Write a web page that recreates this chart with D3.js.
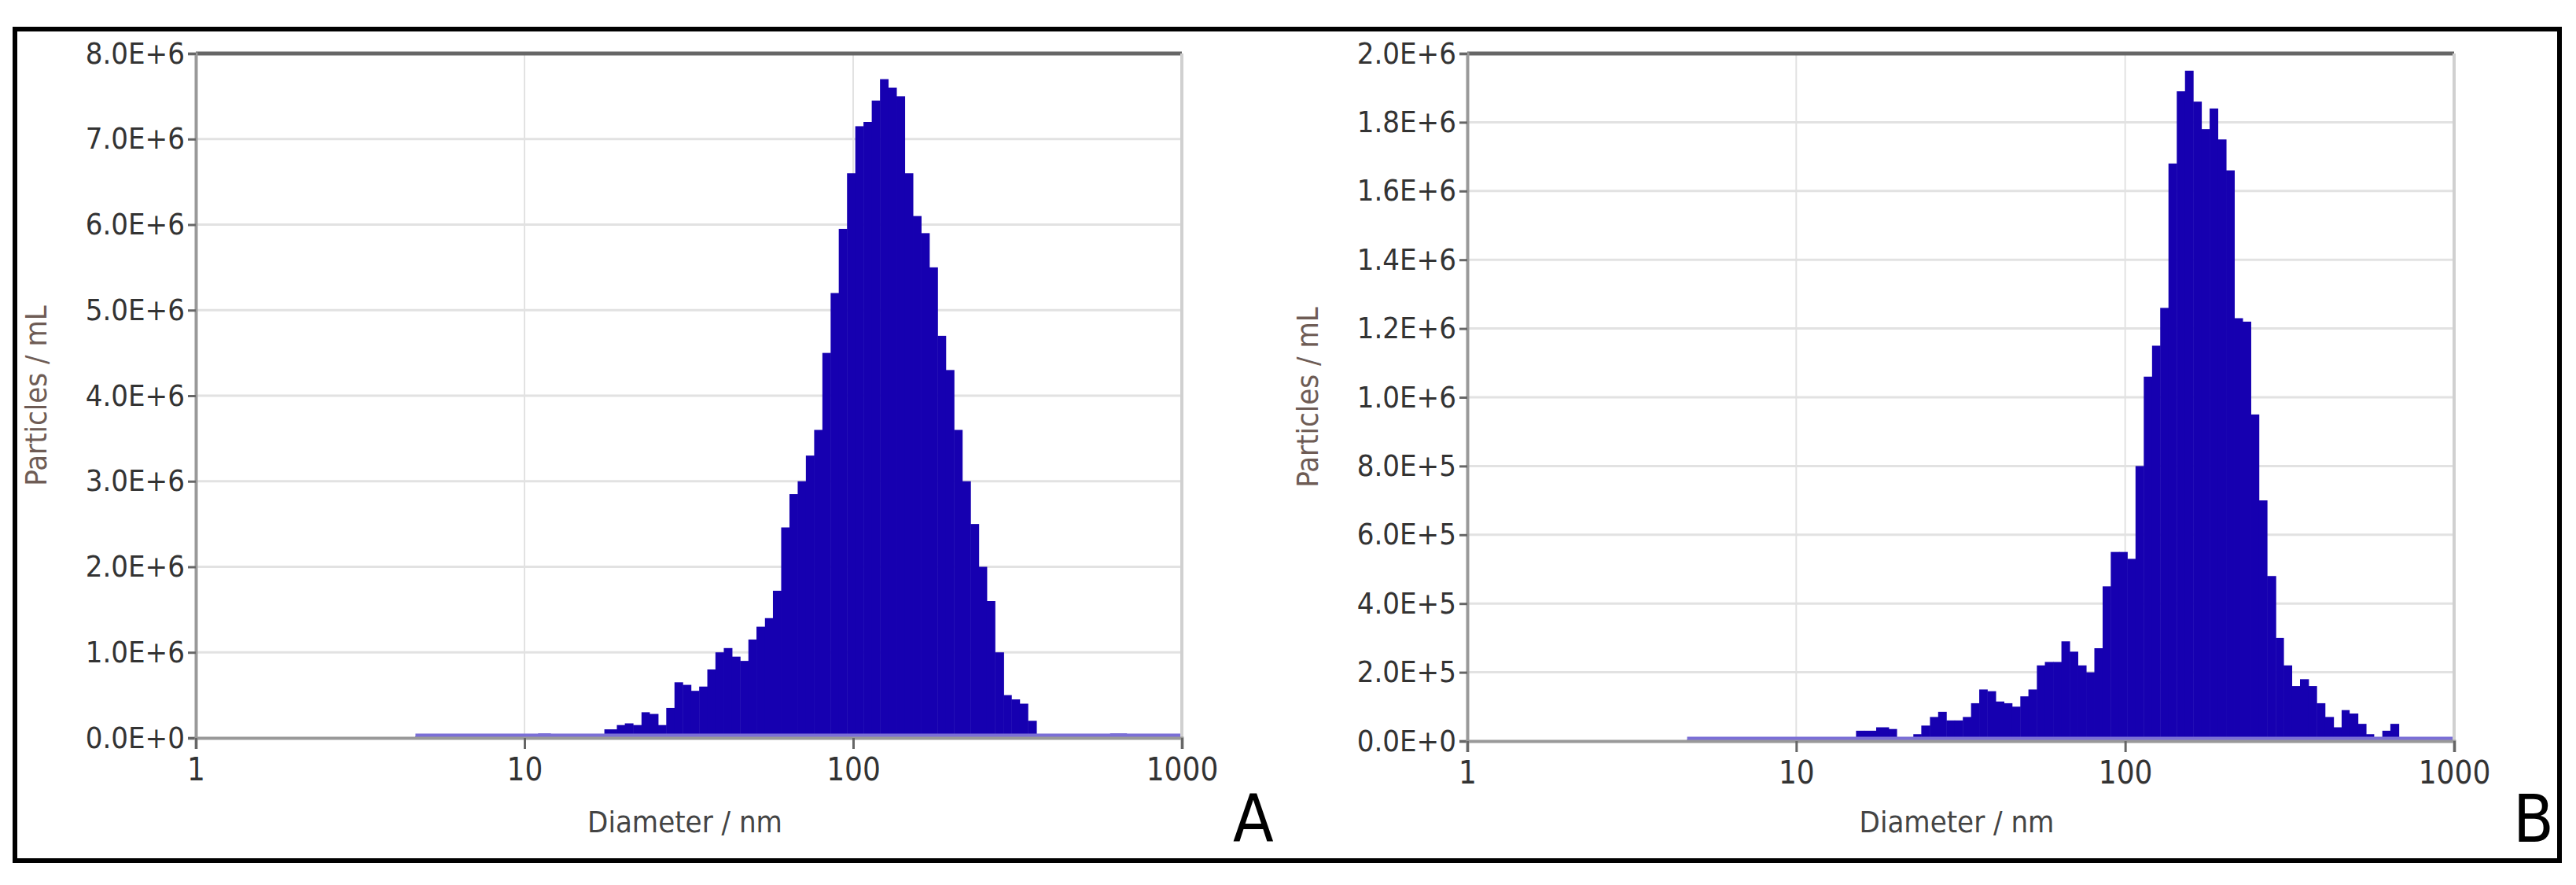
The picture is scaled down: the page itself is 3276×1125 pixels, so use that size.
<!DOCTYPE html>
<html>
<head>
<meta charset="utf-8">
<script src="https://cdn.jsdelivr.net/npm/d3@7"></script>
<style>
  body { margin: 0; background: #fff; }
  text { font-family: 'DejaVu Sans Condensed', 'DejaVu Sans', sans-serif; }
</style>
</head>
<body>
<div id="chart"></div>
<script>
// bin left edges (nm) and particle counts per bin
const diamA = [4.66,10.1,11.0,12.0,13.5,15.2,16.1,17.5,19.1,20.2,21.4,22.7,24.0,25.5,27.0,28.6,30.3,32.1,34.0,36.0,38.1,40.4,42.8,45.3,48.0,50.8,53.9,57.0,60.4,64.0,67.8,71.8,76.1,80.6,85.4,90.4,95.8,101.5,107.5,113.9,120.7,127.8,135.4,143.5,152,161,170.5,180.6,191.3,202.7,214.7,227.5,241,255,270,287,303,321,340,361,405,605,679,1000];
const valA = [0.02e6,0.02e6,0.05e6,0.03e6,0.01e6,0.04e6,0.03e6,0.1e6,0.15e6,0.17e6,0.15e6,0.3e6,0.28e6,0.15e6,0.35e6,0.65e6,0.62e6,0.55e6,0.6e6,0.8e6,1.0e6,1.05e6,0.95e6,0.9e6,1.15e6,1.3e6,1.4e6,1.72e6,2.46e6,2.85e6,3.0e6,3.3e6,3.6e6,4.5e6,5.2e6,5.95e6,6.6e6,7.15e6,7.2e6,7.45e6,7.7e6,7.6e6,7.5e6,6.6e6,6.1e6,5.9e6,5.5e6,4.7e6,4.3e6,3.6e6,3.0e6,2.5e6,2.0e6,1.6e6,1.0e6,0.5e6,0.45e6,0.4e6,0.2e6,0.03e6,0.01e6,0.05e6,0.01e6];

const diamB = [4.66,10.1,11.0,12.0,13.5,15.2,16.1,17.5,19.1,20.2,21.4,22.7,24.0,25.5,27.0,28.6,30.3,32.1,34.0,36.0,38.1,40.4,42.8,45.3,48.0,50.8,53.9,57.0,60.4,64.0,67.8,71.8,76.1,80.6,85.4,90.4,95.8,101.5,107.5,113.9,120.7,127.8,135.4,143.5,152,161,170.5,180.6,191.3,202.7,214.7,227.5,241,255,270,287,303,321,340,361,382,405,430,455,480,510,540,570,605,640,679,715,1000];
const valB = [0.05e5,0.05e5,0.05e5,0.05e5,0.05e5,0.3e5,0.3e5,0.4e5,0.35e5,0.1e5,0.0,0.2e5,0.45e5,0.7e5,0.85e5,0.6e5,0.6e5,0.7e5,1.1e5,1.5e5,1.45e5,1.15e5,1.1e5,1.0e5,1.3e5,1.5e5,2.2e5,2.3e5,2.3e5,2.9e5,2.6e5,2.2e5,2.0e5,2.7e5,4.5e5,5.5e5,5.5e5,5.3e5,8.0e5,10.6e5,11.5e5,12.6e5,16.8e5,18.9e5,19.5e5,18.6e5,17.8e5,18.4e5,17.5e5,16.6e5,12.3e5,12.2e5,9.5e5,7.0e5,4.8e5,3.0e5,2.2e5,1.6e5,1.8e5,1.6e5,1.1e5,0.7e5,0.4e5,0.9e5,0.8e5,0.5e5,0.2e5,0.05e5,0.3e5,0.5e5,0.1e5,0.05e5];

const xTicks = [1, 10, 100, 1000];
const yTicksA = [0,1e6,2e6,3e6,4e6,5e6,6e6,7e6,8e6];
const yTicksB = [0,2e5,4e5,6e5,8e5,1e6,1.2e6,1.4e6,1.6e6,1.8e6,2e6];

const W = 3276, H = 1125;
const svg = d3.select('#chart').append('svg').attr('width', W).attr('height', H);

svg.append('rect').attr('x', 19).attr('y', 37).attr('width', 3236).attr('height', 1057)
    .attr('fill', 'none').attr('stroke', '#000').attr('stroke-width', 6);

const sci = v => {
    if (v === 0) return '0.0E+0';
    const e = Math.floor(Math.log10(v) + 1e-9);
    return (v / Math.pow(10, e)).toFixed(1) + 'E+' + e;
};

function drawPanel(left, right, top, bottom, diam, vals, yMax, yTicks, letter, letterX) {
    const x = d3.scaleLog().domain([1, 1000]).range([left, right]);
    const y = d3.scaleLinear().domain([0, yMax]).range([bottom, top]);
    const g = svg.append('g');

    // grid
    g.selectAll('.hg').data(yTicks.slice(1, -1)).join('line')
        .attr('x1', left).attr('x2', right).attr('y1', d => y(d)).attr('y2', d => y(d))
        .attr('stroke', '#e2e2e2').attr('stroke-width', 3);
    g.selectAll('.vg').data([10, 100]).join('line')
        .attr('x1', d => x(d)).attr('x2', d => x(d)).attr('y1', top).attr('y2', bottom)
        .attr('stroke', '#e2e2e2').attr('stroke-width', 2);

    // bars
    const bins = vals.map((v, i) => ({ x0: diam[i], x1: diam[i + 1], v }));
    g.selectAll('.bar').data(bins).join('rect')
        .attr('x', d => x(d.x0)).attr('width', d => x(d.x1) - x(d.x0) + 0.5)
        .attr('y', d => y(d.v)).attr('height', d => bottom - y(d.v))
        .attr('fill', '#1600b0');
    // baseline trace
    g.append('line').attr('x1', x(diam[0])).attr('x2', x(1000))
        .attr('y1', y(0) - 3).attr('y2', y(0) - 3)
        .attr('stroke', '#7b6fd6').attr('stroke-width', 5);

    // frame
    g.append('line').attr('x1', left).attr('x2', right).attr('y1', top).attr('y2', top)
        .attr('stroke', '#666').attr('stroke-width', 5);
    g.append('line').attr('x1', right).attr('x2', right).attr('y1', top).attr('y2', bottom)
        .attr('stroke', '#d0d0d0').attr('stroke-width', 4);

    const yAxis = d3.axisLeft(y).tickValues(yTicks).tickFormat(sci).tickSize(10).tickPadding(4);
    const yG = g.append('g').attr('transform', `translate(${left},0)`).call(yAxis);
    yG.select('.domain').attr('stroke', '#999').attr('stroke-width', 4);
    yG.selectAll('.tick line').attr('stroke', '#666').attr('stroke-width', 3);
    yG.selectAll('text').attr('font-size', 38).attr('fill', '#333')
        .attr('font-family', "'DejaVu Sans Condensed', sans-serif");

    const xAxis = d3.axisBottom(x).tickValues(xTicks).tickFormat(d3.format('d')).tickSize(14).tickPadding(12);
    const xG = g.append('g').attr('transform', `translate(0,${bottom})`).call(xAxis);
    xG.select('.domain').attr('stroke', '#999').attr('stroke-width', 4);
    xG.selectAll('.tick line').attr('stroke', '#666').attr('stroke-width', 3);
    xG.selectAll('text').attr('font-size', 40).attr('fill', '#333')
        .attr('font-family', "'DejaVu Sans Condensed', sans-serif");

    g.append('text').attr('x', (left + right) / 2 - 5).attr('y', 1058)
        .attr('text-anchor', 'middle').attr('font-size', 38).attr('fill', '#444')
        .text('Diameter / nm');
    g.append('text').attr('transform', `translate(${left - 190},${(top + bottom) / 2}) rotate(-90)`)
        .attr('text-anchor', 'middle').attr('font-size', 38).attr('fill', '#6e5c55')
        .text('Particles / mL');
    g.append('text').attr('x', letterX).attr('y', 1070)
        .attr('font-family', "'Liberation Serif', serif").attr('font-size', 84).attr('fill', '#000')
        .text(letter);
}

drawPanel(249, 1503, 68, 938, diamA, valA, 8e6, yTicksA, 'A', 1568);
drawPanel(1866, 3121, 68, 942, diamB, valB, 2e6, yTicksB, 'B', 3196);
</script>
</body>
</html>
